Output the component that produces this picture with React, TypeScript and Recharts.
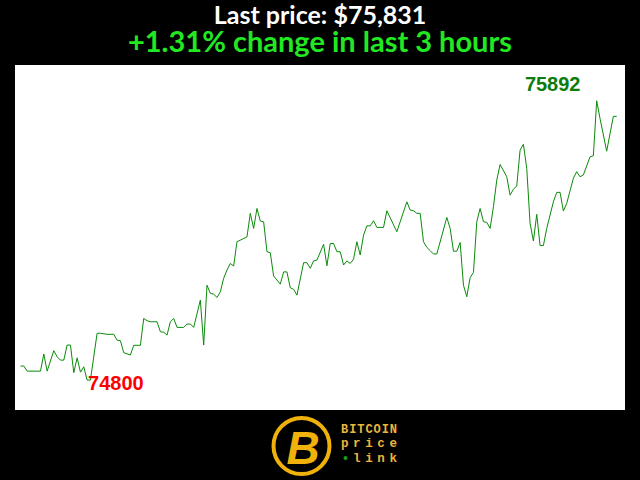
import React from 'react'
import { LineChart, Line, XAxis, YAxis, ReferenceDot } from 'recharts'

// minute index within the 3 hour window (turning points only)
const minutes = [
  0, 1, 2, 6, 7, 8, 10, 11, 12, 13,
  14, 15, 16, 17, 18, 19, 20, 21, 23, 24,
  26, 28, 29, 30, 31, 33, 34, 36, 37, 38,
  39, 41, 42, 43, 44, 45, 46, 47, 49, 50,
  51, 52, 54, 55, 56, 57, 58, 59, 60, 61,
  62, 63, 64, 65, 66, 68, 69, 70, 71, 72,
  73, 74, 75, 76, 78, 79, 80, 81, 82, 83,
  85, 86, 87, 88, 89, 91, 92, 93, 94, 95,
  96, 97, 98, 99, 100, 101, 102, 103, 104, 105,
  106, 107, 109, 110, 113, 116, 117, 118, 119, 120,
  121, 122, 123, 124, 125, 128, 129, 130, 131,
  132, 133, 134, 135, 136, 137, 138, 139, 140, 141,
  142, 143, 144, 146, 147, 148, 149, 150, 151, 152,
  153, 154, 155, 156, 157, 158, 160, 161, 162, 163,
  164, 166, 167, 168, 169, 171, 172, 173, 174, 176,
  178, 179,
]

const prices = [
  74855, 74855, 74835, 74835, 74902, 74835, 74915, 74891, 74878, 74878,
  74937, 74937, 74829, 74887, 74831, 74852, 74800, 74800, 74983, 74983,
  74979, 74979, 74956, 74954, 74907, 74898, 74936, 74936, 75041, 75032,
  75028, 75028, 74989, 74987, 74976, 75028, 75041, 75006, 75006, 75019,
  75019, 75006, 75113, 74937, 75171, 75139, 75136, 75123, 75145, 75198,
  75230, 75256, 75246, 75341, 75347, 75360, 75452, 75393, 75471, 75422,
  75419, 75302, 75298, 75207, 75175, 75223, 75223, 75161, 75155, 75132,
  75259, 75259, 75237, 75266, 75269, 75331, 75247, 75334, 75334, 75302,
  75302, 75250, 75266, 75256, 75273, 75341, 75289, 75367, 75403, 75403,
  75423, 75397, 75397, 75462, 75380, 75497, 75465, 75462, 75452, 75452,
  75341, 75319, 75306, 75293, 75293, 75436, 75393, 75304, 75304,
  75338, 75171, 75126, 75200, 75221, 75419, 75471, 75419, 75417, 75393,
  75478, 75582, 75643, 75595, 75523, 75546, 75559, 75699, 75722, 75628,
  75413, 75344, 75448, 75326, 75326, 75393, 75497, 75534, 75534, 75461,
  75491, 75589, 75615, 75595, 75602, 75673, 75677, 75892, 75823, 75695,
  75831, 75831,
]

const lastPrice = '$75,831'
const changeText = '+1.31% change in last 3 hours'

const data = minutes.map((m, i) => ({ t: m, price: prices[i] }))

const maxPrice = Math.max(...prices)
const minPrice = Math.min(...prices)
const maxAt = minutes[prices.indexOf(maxPrice)]
const minAt = minutes[prices.indexOf(minPrice)]

function Logo() {
  const gold = '#f0b20a'
  return (
    <svg width={640} height={70} style={{ position: 'absolute', left: 0, top: 410 }}>
      <circle cx={301.5} cy={36} r={28} fill="#000" stroke={gold} strokeWidth={4} />
      <text
        x={303}
        y={54}
        textAnchor="middle"
        fill={gold}
        fontFamily="Liberation Sans"
        fontWeight="bold"
        fontStyle="italic"
        fontSize={46}
      >
        B
      </text>
      <g fontFamily="Liberation Mono" fontWeight="bold" fill="#e9b73a">
        <text x={341} y={23} fontSize={12} textLength={56}>BITCOIN</text>
        <text x={341} y={37} fontSize={12.5} textLength={56}>price</text>
        <text x={353} y={52} fontSize={12.5} textLength={44}>link</text>
      </g>
      <circle cx={345.5} cy={48} r={2} fill="#19a019" />
    </svg>
  )
}

export default function App() {
  return (
    <div style={{ position: 'absolute', left: 0, top: 0, width: 640, height: 480, background: '#000', overflow: 'hidden' }}>
      <svg width={640} height={65} style={{ position: 'absolute', left: 0, top: 0 }}>
        <text x={320} y={24} textAnchor="middle" fill="#fff" fontFamily="Lato" fontWeight="bold" fontSize={25}>
          Last price: {lastPrice}
        </text>
        <text x={320} y={52} textAnchor="middle" fill="#22e822" fontFamily="Lato" fontWeight="bold" fontSize={29}>
          {changeText}
        </text>
      </svg>
      <div style={{ position: 'absolute', left: 15, top: 65, width: 610, height: 345, background: '#fff' }}>
        <LineChart width={610} height={345} data={data} margin={{ top: 0, right: 0, bottom: 0, left: 0 }}>
          <XAxis dataKey="t" type="number" domain={[-1.65, 181.5]} hide />
          <YAxis type="number" domain={[74683, 76032]} hide />
          <Line
            type="linear"
            dataKey="price"
            stroke="#0a8a0a"
            strokeWidth={1}
            dot={false}
            isAnimationActive={false}
          />
          <ReferenceDot
            x={maxAt}
            y={maxPrice}
            r={1}
            shape={(p: any) => (
              <text
                x={p.cx - 44}
                y={p.cy - 10}
                textAnchor="middle"
                fill="#0a7d0a"
                fontFamily="Liberation Sans"
                fontWeight="bold"
                fontSize={20}
              >
                {maxPrice}
              </text>
            )}
          />
          <ReferenceDot
            x={minAt}
            y={minPrice}
            r={1}
            shape={(p: any) => (
              <text
                x={p.cx + 1}
                y={p.cy + 10}
                textAnchor="start"
                fill="#ff0000"
                fontFamily="Liberation Sans"
                fontWeight="bold"
                fontSize={20}
              >
                {minPrice}
              </text>
            )}
          />
        </LineChart>
      </div>
      <Logo />
    </div>
  )
}
